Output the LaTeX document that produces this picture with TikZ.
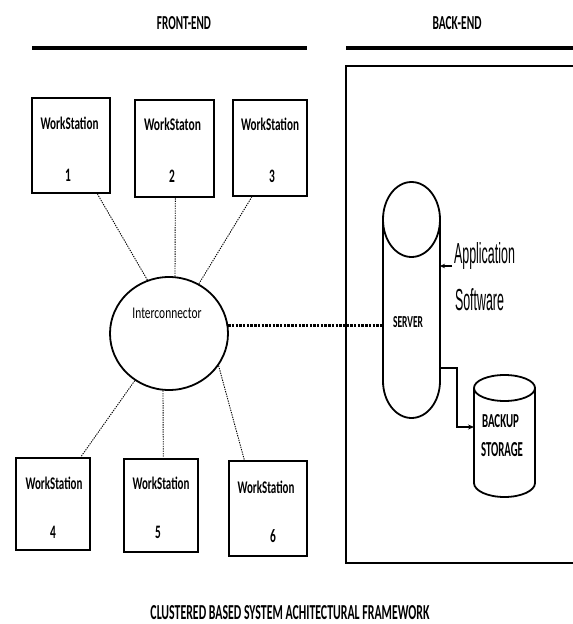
\documentclass[tikz,border=0pt]{standalone}
\usepackage{fontspec}
\setmainfont{Carlito}
\newfontfamily\appfont{Liberation Sans}
\usetikzlibrary{calc,arrows.meta,shapes.geometric}
\newcommand{\fitw}[3]{\resizebox{#1pt}{#2pt}{#3}}
\newcommand{\dg}[1]{\scalebox{0.6}[1]{\fontsize{19}{19}\selectfont\bfseries #1}}
\begin{document}
\begin{tikzpicture}[x=1pt,y=-1pt,
  ws/.style={draw,line width=2.4pt,inner sep=0pt},
  txt/.style={inner sep=0pt,outer sep=0pt},
  dots/.style={line width=0.9pt,dash pattern=on 1.3pt off 1.1pt},
  thickdots/.style={line width=3pt,dash pattern=on 2.4pt off 1.3pt},
  hdr/.style={line width=3.5pt},
  cyl/.style={line width=1.8pt},
  conn/.style={line width=1.3pt},
  tip/.style={-{Stealth[length=6pt,width=5pt]}}]
\useasboundingbox (0,0) rectangle (573,624);
\clip (0,0) rectangle (573,624);
% headers
\node[txt] (fe) at (184,23) {\fitw{54}{13}{\bfseries FRONT-END}};
\node[txt] (be) at (457,23) {\fitw{49}{13}{\bfseries BACK-END}};
\draw[hdr] (32,48) -- (307,48);
\draw[hdr] (346,48) -- (590,48);
% back-end frame
\draw[line width=1.8pt] (346,66) rectangle (595,563);
% workstations
\node[ws,minimum width=78pt,minimum height=95pt] (w1) at (71,145.5) {};
\node[ws,minimum width=79pt,minimum height=97pt] (w2) at (174.5,148.5) {};
\node[ws,minimum width=74pt,minimum height=96pt] (w3) at (270,148) {};
\node[ws,minimum width=74pt,minimum height=92pt] (w4) at (53,504) {};
\node[ws,minimum width=74pt,minimum height=93pt] (w5) at (161,505.5) {};
\node[ws,minimum width=78pt,minimum height=95pt] (w6) at (268,508.5) {};
\node[txt] (t1) at (69.5,123) {\fitw{58}{12.5}{\bfseries WorkStation}};
\node[txt] (t2) at (172.5,124) {\fitw{57}{12.5}{\bfseries WorkStaton}};
\node[txt] (t3) at (270,124) {\fitw{58}{12.5}{\bfseries WorkStation}};
\node[txt] (t4) at (54,483) {\fitw{57}{12.5}{\bfseries WorkStation}};
\node[txt] (t5) at (161,483) {\fitw{57}{12.5}{\bfseries WorkStation}};
\node[txt] (t6) at (266,487) {\fitw{57}{12.5}{\bfseries WorkStation}};
\node[txt] (n1) at (68,175) {\dg{1}};
\node[txt] (n2) at (172,176) {\dg{2}};
\node[txt] (n3) at (272,176) {\dg{3}};
\node[txt] (n4) at (53,532) {\dg{4}};
\node[txt] (n5) at (158,532) {\dg{5}};
\node[txt] (n6) at (273,536) {\dg{6}};
% interconnector
\node[draw,ellipse,line width=1.8pt,minimum width=118pt,minimum height=113pt,inner sep=0pt] (ic) at (169,333.5) {};
\node[txt] (ict) at (167,313) {\fitw{69}{10.5}{Interconnector}};
% dotted links
\draw[dots] (ic.112) -- ($(w1.south west)!0.83!(w1.south east)$);
\draw[dots] (ic.84) -- ($(w2.south west)!0.51!(w2.south east)$);
\draw[dots] (ic.59) -- ($(w3.south west)!0.26!(w3.south east)$);
\draw[dots] (ic.234) -- ($(w4.north west)!0.865!(w4.north east)$);
\draw[dots] (ic.264) -- ($(w5.north west)!0.53!(w5.north east)$);
\draw[dots] (ic.327) -- ($(w6.north west)!0.205!(w6.north east)$);
% server
\node[txt,minimum width=57pt,minimum height=236pt] (srv) at (411.5,300) {};
\draw[cyl] ($(srv.north west)+(0,37.5)$) -- ($(srv.south west)+(0,-37)$)
  arc[start angle=180,end angle=360,x radius=28.5pt,y radius=37pt]
  -- ($(srv.north east)+(0,37.5)$);
\draw[cyl] ($(srv.north)+(0,37.5)$) ellipse[x radius=28.5pt,y radius=37.5pt];
\node[txt] (srvt) at (408,322.5) {\fitw{30}{11}{\bfseries SERVER}};
\draw[thickdots] (ic.8) -- (ic.8 -| srv.west);
% application software
\node[txt,anchor=base west] (app1) at (454,263) {\fitw{61}{21}{\appfont Application}};
\node[txt,anchor=base west] (app2) at (455,310) {\fitw{49}{22}{\appfont Software}};
\coordinate (apptail) at (452,266);
\draw[conn,-{Stealth[length=5pt,width=4.5pt]}] (apptail) -- (apptail -| srv.east);
% backup storage
\node[txt,minimum width=61pt,minimum height=122pt] (bk) at (504.5,436) {};
\draw[cyl] ($(bk.north west)+(0,13)$) -- ($(bk.south west)+(0,-14)$)
  arc[start angle=180,end angle=360,x radius=30.5pt,y radius=14pt]
  -- ($(bk.north east)+(0,13)$);
\draw[cyl] ($(bk.north)+(0,13)$) ellipse[x radius=30.5pt,y radius=13pt];
\node[txt] (bkt1) at (500.5,421.5) {\fitw{37}{13}{\bfseries BACKUP}};
\node[txt] (bkt2) at (502,450) {\fitw{42}{14}{\bfseries STORAGE}};
\draw[conn,tip] ($(srv.south east)+(0,-50)$) -- ++(17,0) |- ($(bk.west)+(0,-9)$);
% title
\node[txt] (title) at (290,612.5) {\fitw{279}{14}{\bfseries CLUSTERED BASED SYSTEM ACHITECTURAL FRAMEWORK}};
\end{tikzpicture}
\end{document}
